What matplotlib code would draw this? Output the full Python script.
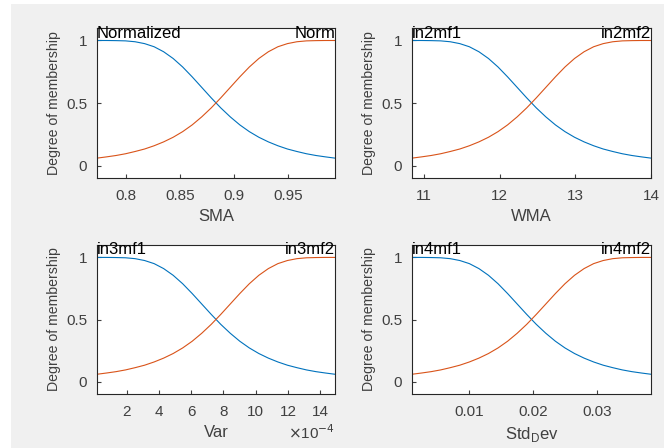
import numpy as np
import matplotlib
matplotlib.use("Agg")
import matplotlib.pyplot as plt
from matplotlib.patches import Rectangle

plt.rcParams['font.family'] = ['Liberation Sans', 'DejaVu Sans']
plt.rcParams['font.size'] = 10

# membership curves (fraction of each input range)
t_pos = [0.00, 0.04, 0.08, 0.12, 0.16, 0.20, 0.24, 0.28, 0.32, 0.36, 0.40, 0.44, 0.48,
         0.52, 0.56, 0.60, 0.64, 0.68, 0.72, 0.76, 0.80, 0.84, 0.88, 0.92, 0.96, 1.00]
mf1 = [1.000, 1.000, 0.999, 0.997, 0.990, 0.975, 0.950, 0.910, 0.856, 0.788, 0.709, 0.625, 0.541,
       0.461, 0.389, 0.325, 0.271, 0.226, 0.189, 0.158, 0.132, 0.112, 0.094, 0.080, 0.069, 0.059]
mf2 = [0.059, 0.069, 0.080, 0.094, 0.112, 0.132, 0.158, 0.189, 0.226, 0.271, 0.325, 0.389, 0.461,
       0.541, 0.625, 0.709, 0.788, 0.856, 0.910, 0.950, 0.975, 0.990, 0.997, 0.999, 1.000, 1.000]

# input ranges
in_names = ['SMA', 'WMA', 'Var', 'Std$_\\mathregular{D}$ev']
in_ranges = [(0.773, 0.993), (10.84, 14.0), (0.154e-4, 14.92e-4), (0.00102, 0.0385)]
mf_names = [('Normalized', 'Norm'), ('in2mf1', 'in2mf2'),
            ('in3mf1', 'in3mf2'), ('in4mf1', 'in4mf2')]
x_ticks = [[0.8, 0.85, 0.9, 0.95], [11, 12, 13, 14],
           [2e-4, 4e-4, 6e-4, 8e-4, 10e-4, 12e-4, 14e-4], [0.01, 0.02, 0.03]]
x_ticklabels = [['0.8', '0.85', '0.9', '0.95'], ['11', '12', '13', '14'],
                ['2', '4', '6', '8', '10', '12', '14'], ['0.01', '0.02', '0.03']]

W, H = 664, 448
fig = plt.figure(figsize=(W / 100, H / 100), dpi=100)
fig.patch.set_facecolor('white')
fig.patches.append(Rectangle((11 / W, 0), 1 - 11 / W, 1 - 4 / H, transform=fig.transFigure,
                             facecolor='#f0f0f0', edgecolor='none', zorder=-1))

# axes boxes in pixels: left, top, right, bottom
boxes = [(97, 28, 335, 178), (412, 28, 651, 178), (97, 245, 335, 394), (412, 245, 651, 394)]

blue = '#0072BD'
orange = '#D95319'
tc = '#404040'

for i in range(4):
    l, t, r, b = boxes[i]
    ax = fig.add_axes([l / W, (H - b) / H, (r - l) / W, (b - t) / H])
    lo, hi = in_ranges[i]
    x = lo + np.array(t_pos) * (hi - lo)
    ax.plot(x, mf1, color=blue, lw=0.8)
    ax.plot(x, mf2, color=orange, lw=0.8)
    ax.set_xlim(lo, hi)
    ax.set_ylim(-0.1, 1.1)
    ax.set_yticks([0, 0.5, 1])
    ax.set_yticklabels(['0', '0.5', '1'])
    ax.set_xticks(x_ticks[i])
    ax.set_xticklabels(x_ticklabels[i])
    ax.tick_params(direction='in', length=3, colors=tc, labelsize=11, pad=8)
    ax.tick_params(axis='y', pad=7)
    for s in ax.spines.values():
        s.set_color('#262626')
        s.set_linewidth(0.8)
    ax.set_xlabel(in_names[i], color=tc, fontsize=12, labelpad=4)
    ax.set_ylabel('Degree of membership', color=tc, fontsize=10.2, labelpad=4)
    ax.text(lo, 1.0, mf_names[i][0], ha='left', va='bottom', fontsize=12, color='black')
    ax.text(hi, 1.0, mf_names[i][1], ha='right', va='bottom', fontsize=12, color='black')
    if i == 2:
        ax.text(1.0, -0.26, '$\\times$10$^{-4}$', transform=ax.transAxes,
                ha='right', va='center', fontsize=11, color=tc)

fig.savefig('out.png', dpi=100, facecolor=fig.get_facecolor())
